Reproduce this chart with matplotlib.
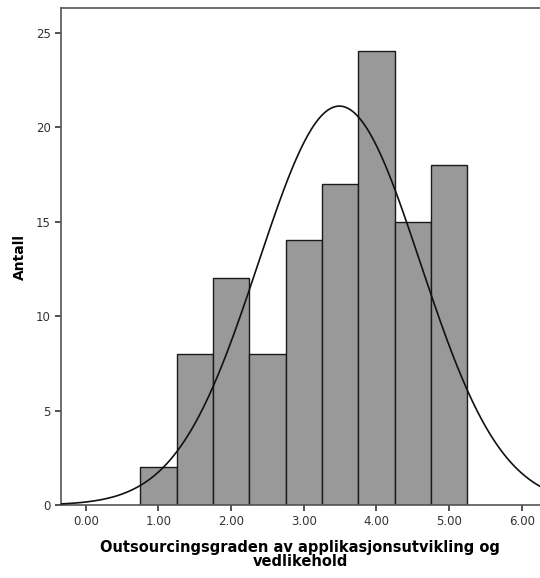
import numpy as np
import matplotlib.pyplot as plt

# histogram bins (width 0.5) and counts
bin_edges = [0.75, 1.25, 1.75, 2.25, 2.75, 3.25, 3.75, 4.25, 4.75, 5.25]
counts = [2, 8, 12, 8, 14, 17, 24, 15, 18]

# fitted normal curve
mean = 3.49
std = 1.115

xticks = [0, 1, 2, 3, 4, 5, 6]
yticks = [0, 5, 10, 15, 20, 25]

fig = plt.figure(figsize=(5.4, 5.78), dpi=100)
ax = fig.add_axes([61 / 540, 73 / 578, 1 - 61 / 540, 497 / 578])

edges = np.array(bin_edges)
widths = np.diff(edges)
ax.bar(edges[:-1], counts, width=widths, align="edge",
       color="#999999", edgecolor="#1a1a1a", linewidth=1.0, zorder=2)

n = sum(counts)
bw = widths[0]
xs = np.linspace(-0.34, 6.3, 400)
ys = n * bw / (std * np.sqrt(2 * np.pi)) * np.exp(-0.5 * ((xs - mean) / std) ** 2)
ax.plot(xs, ys, color="#111111", linewidth=1.2, zorder=3)

ax.set_xlim(-0.34, 6.25)
ax.set_ylim(0, 26.3)
ax.set_xticks(xticks)
ax.set_xticklabels(["%.2f" % v for v in xticks])
ax.set_yticks(yticks)

for side in ["left", "top", "bottom"]:
    ax.spines[side].set_color("#555555")
    ax.spines[side].set_linewidth(1.2)
ax.spines["right"].set_visible(False)
ax.tick_params(direction="out", length=4, width=1.2, color="#333333",
               labelsize=8.5, labelcolor="#333333")

ax.set_ylabel("Antall", fontsize=10, fontweight="bold", labelpad=6)
ax.set_xlabel("Outsourcingsgraden av applikasjonsutvikling og\nvedlikehold",
              fontsize=10.5, fontweight="bold", linespacing=0.9)
ax.xaxis.set_label_coords((300 - 61) / (540 - 61), -0.071)

fig.savefig("out.png", dpi=100)
